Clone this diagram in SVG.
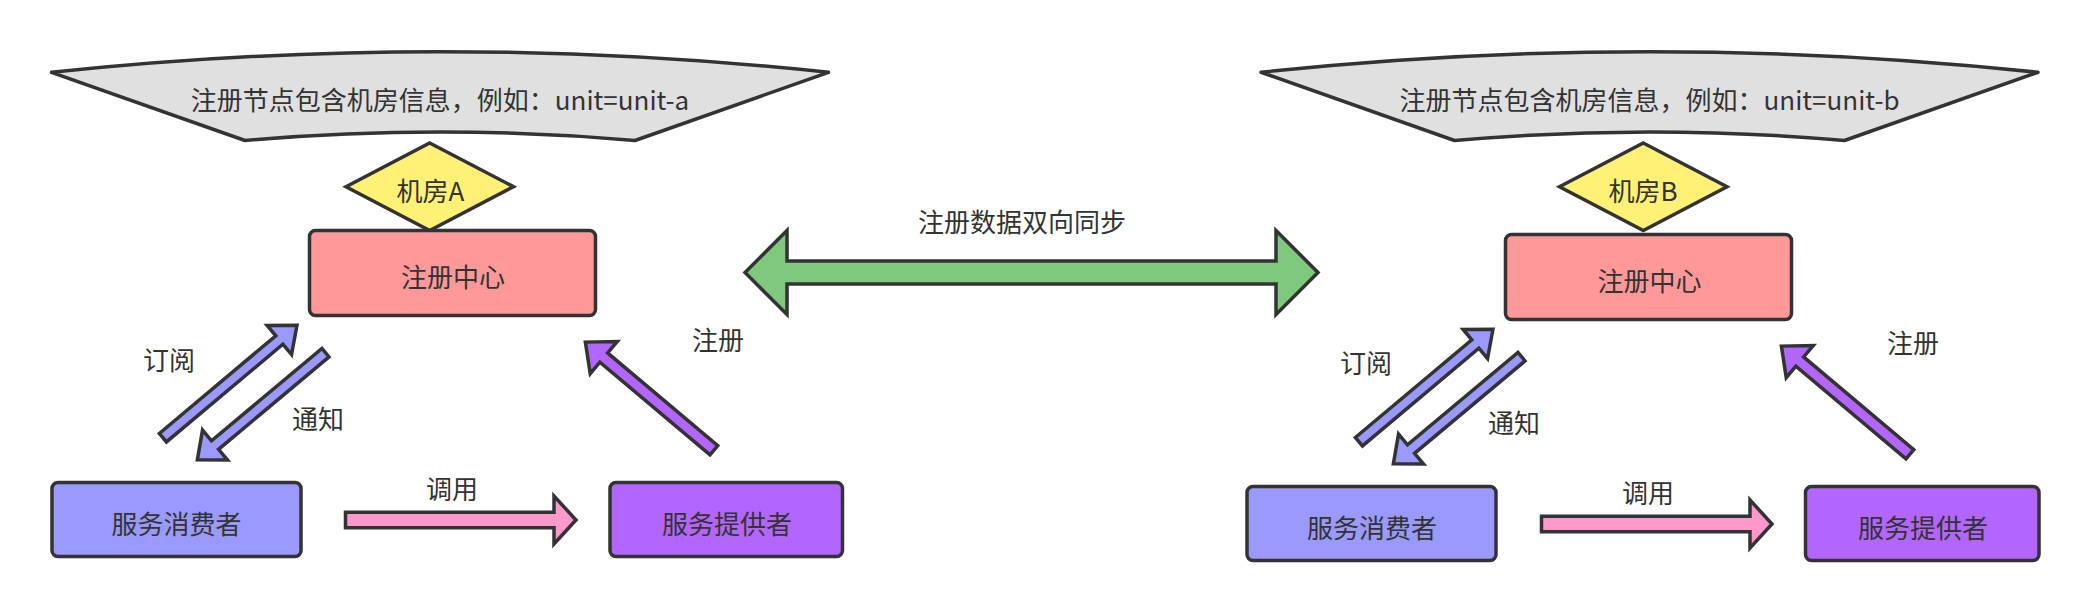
<svg xmlns="http://www.w3.org/2000/svg" width="2090" height="612" viewBox="0 0 2090 612">
<style>
.s{stroke:#333333;stroke-width:3.5;stroke-linejoin:miter;stroke-miterlimit:10}
.banner{fill:#E0E0E0;stroke-linejoin:round}
.dia{fill:#FFF176}
.reg{fill:#FF9999}
.con{fill:#9999FF}
.pro{fill:#B266FF}
.sync{fill:#7FC97F}
.call{fill:#FF99CC}
.blue{fill:#9999FF}
.purp{fill:#B266FF}
text{font-family:"Noto Sans CJK SC","Noto Sans",sans-serif;font-size:26px;fill:#333333;text-anchor:middle}
</style>
<rect width="2090" height="612" fill="#FFFFFF"/>

<g id="connectors">
  <g id="sync">
    <path class="s sync" d="M745,272.5 L787,230.5 L787,261 L1276,261 L1276,230.5 L1318,272.5 L1276,314.5 L1276,284 L787,284 L787,314.5 Z"/>
    <text x="1022" y="232">注册数据双向同步</text>
  </g>
  <g id="subscribe-a">
    <path class="s blue" transform="translate(162.9,437.7) rotate(-40)" d="M0,-5.5 L152,-5.5 L152,-19 L175,0 L152,19 L152,5.5 L0,5.5 Z"/>
    <text x="169" y="369.5">订阅</text>
  </g>
  <g id="notify-a">
    <path class="s blue" transform="translate(325.5,352.7) rotate(140.1)" d="M0,-5.5 L144,-5.5 L144,-19.5 L167,0 L144,19.5 L144,5.5 L0,5.5 Z"/>
    <text x="318" y="428.5">通知</text>
  </g>
  <g id="register-a">
    <path class="s purp" transform="translate(713.9,450.3) rotate(-139.9)" d="M0,-6 L144,-6 L144,-21 L168,0 L144,21 L144,6 L0,6 Z"/>
    <text x="718" y="349.5">注册</text>
  </g>
  <g id="call-a">
    <path class="s call" d="M345.5,512.2 L554,512.2 L554,496 L576,520 L554,544 L554,527.8 L345.5,527.8 Z"/>
    <text x="452" y="498.5">调用</text>
  </g>
  <g id="subscribe-b">
    <path class="s blue" transform="translate(1358.9,441.7) rotate(-40)" d="M0,-5.5 L152,-5.5 L152,-19 L175,0 L152,19 L152,5.5 L0,5.5 Z"/>
    <text x="1366" y="372.5">订阅</text>
  </g>
  <g id="notify-b">
    <path class="s blue" transform="translate(1521.5,356.7) rotate(140.1)" d="M0,-5.5 L144,-5.5 L144,-19.5 L167,0 L144,19.5 L144,5.5 L0,5.5 Z"/>
    <text x="1514" y="432.5">通知</text>
  </g>
  <g id="register-b">
    <path class="s purp" transform="translate(1909.9,454.3) rotate(-139.9)" d="M0,-6 L144,-6 L144,-21 L168,0 L144,21 L144,6 L0,6 Z"/>
    <text x="1913" y="352.5">注册</text>
  </g>
  <g id="call-b">
    <path class="s call" d="M1541.5,516.2 L1750,516.2 L1750,500 L1772,524 L1750,548 L1750,531.8 L1541.5,531.8 Z"/>
    <text x="1648" y="502.5">调用</text>
  </g>
</g>

<g id="banner-a">
  <path class="s banner" d="M51.5,72.3 Q440,31 828.5,72.3 L635,140.5 Q440,123.5 245,140.5 Z"/>
  <text x="440" y="109.5">注册节点包含机房信息，例如：unit=unit-a</text>
</g>
<g id="room-a">
  <path class="s dia" d="M429.7,143 L513.5,186.7 L429.7,230.5 L346,186.7 Z"/>
  <text x="430.5" y="200.5">机房A</text>
</g>
<g id="registry-a">
  <rect class="s reg" x="309.5" y="230.5" width="286" height="85" rx="6"/>
  <text x="453" y="287">注册中心</text>
</g>
<g id="consumer-a">
  <rect class="s con" x="52" y="482.5" width="249" height="74" rx="6"/>
  <text x="176.5" y="533.5">服务消费者</text>
</g>
<g id="provider-a">
  <rect class="s pro" x="610" y="482.5" width="232.5" height="74" rx="6"/>
  <text x="727" y="533.5">服务提供者</text>
</g>

<g id="banner-b">
  <path class="s banner" d="M1261,72.3 Q1649.5,31 2038,72.3 L1844.5,140.5 Q1649.5,123.5 1454.5,140.5 Z"/>
  <text x="1649.5" y="109.5">注册节点包含机房信息，例如：unit=unit-b</text>
</g>
<g id="room-b">
  <path class="s dia" d="M1643.3,143 L1727,186.7 L1643.3,230.5 L1559.5,186.7 Z"/>
  <text x="1643" y="200.5">机房B</text>
</g>
<g id="registry-b">
  <rect class="s reg" x="1505.5" y="234.5" width="286" height="85" rx="6"/>
  <text x="1649.5" y="290.5">注册中心</text>
</g>
<g id="consumer-b">
  <rect class="s con" x="1247" y="486.5" width="249" height="74" rx="6"/>
  <text x="1372" y="537.5">服务消费者</text>
</g>
<g id="provider-b">
  <rect class="s pro" x="1805.5" y="486.5" width="233.5" height="74" rx="6"/>
  <text x="1923" y="537.5">服务提供者</text>
</g>
</svg>
